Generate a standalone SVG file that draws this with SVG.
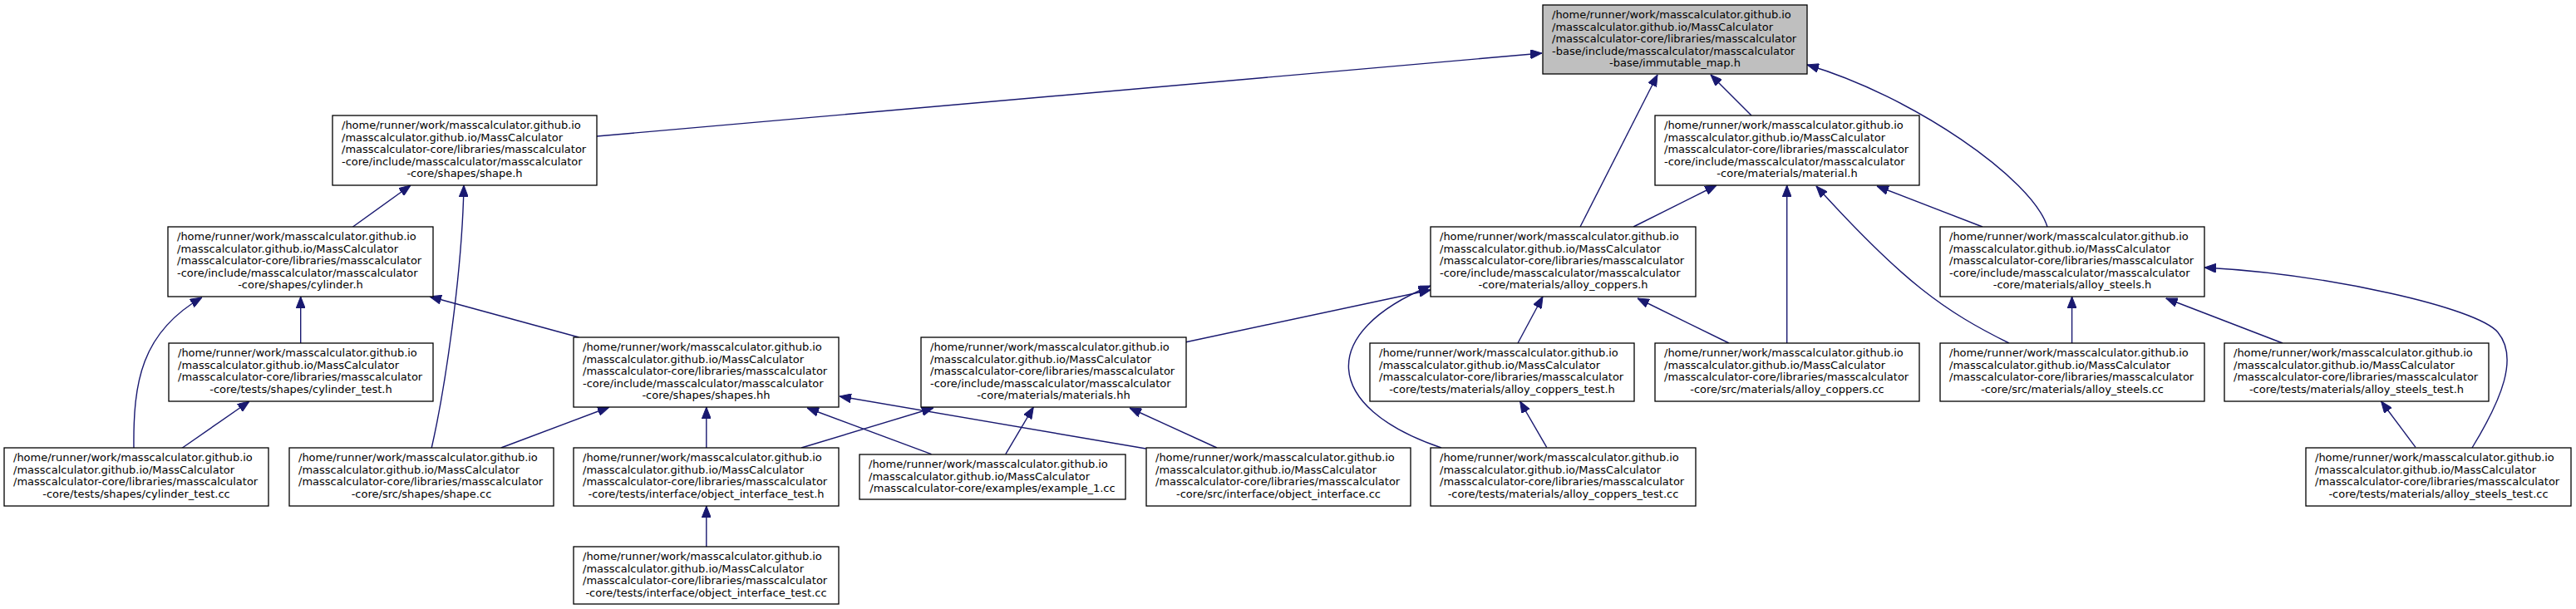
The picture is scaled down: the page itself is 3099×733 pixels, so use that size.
<svg xmlns="http://www.w3.org/2000/svg" width="3099" height="733" viewBox="0 0 3099 733">
<style>
rect.b{fill:#ffffff;stroke:#000000;stroke-width:1.3}
rect.g{fill:#bfbfbf;stroke:#000000;stroke-width:1.3}
text{font-family:"DejaVu Sans","Liberation Sans",sans-serif;font-size:13px;fill:#000000}
tspan.c{text-anchor:middle}
#edges path{fill:none;stroke:#191970;stroke-width:1.4;marker-end:url(#a)}
</style>
<defs>
<marker id="a" viewBox="0 0 14 11" refX="14" refY="5.5" markerWidth="14" markerHeight="11" orient="auto" markerUnits="userSpaceOnUse">
<path d="M0,0 L14,5.5 L0,11 Z" fill="#191970" stroke="#191970" stroke-width="1"/>
</marker>
</defs>
<rect width="3099" height="733" fill="#ffffff"/>
<g id="edges">
<path d="M718,164 L1855,64"/>
<path d="M1901,273 L1994,90"/>
<path d="M2107,139 L2058,90"/>
<path d="M2463,273 C2445,215 2300,115 2174,78"/>
<path d="M424.5,273 L494,223"/>
<path d="M519,540 C535,470 556,330 558,223"/>
<path d="M361.7,413 L361.7,357"/>
<path d="M161,540 C160,460 170,400 243,358"/>
<path d="M696.5,406 L517,357"/>
<path d="M602.7,539 L733,490"/>
<path d="M849.8,539 L849.8,490"/>
<path d="M1120.5,546.7 L971,491"/>
<path d="M1378.6,540 L1010,477"/>
<path d="M1426.7,411.7 L1721,349"/>
<path d="M1734,539 C1590,490 1585,400 1721,344"/>
<path d="M1826,413 L1856,357"/>
<path d="M2080,413 L1970,359"/>
<path d="M1965,273 L2065,223"/>
<path d="M2149.7,413 L2149.7,223"/>
<path d="M2417,413 C2340,375 2290,340 2185,224"/>
<path d="M2385,273 L2258,224"/>
<path d="M2492.6,413 L2492.6,357"/>
<path d="M2746,413 L2605.7,359"/>
<path d="M2974,539 C3010,480 3030,430 3005,400 C2980,370 2800,330 2652,322"/>
<path d="M2906,538.3 L2864.6,483"/>
<path d="M1860.7,538.3 L1828.6,483"/>
<path d="M218,540 L300,483"/>
<path d="M849.8,658 L849.8,609"/>
<path d="M1209.8,546.7 L1243.3,490"/>
<path d="M1464,539 L1359,491"/>
<path d="M964,539 L1122.8,491"/>
</g>
<g id="immutable_map">
<rect class="g" x="1856" y="6" width="318" height="83"/>
<text><tspan x="1867" y="22">/home/runner/work/masscalculator.github.io</tspan><tspan x="1867" y="36.5">/masscalculator.github.io/MassCalculator</tspan><tspan x="1867" y="51">/masscalculator-core/libraries/masscalculator</tspan><tspan x="1867" y="65.5">-base/include/masscalculator/masscalculator</tspan><tspan class="c" x="2015" y="80">-base/immutable_map.h</tspan></text>
</g>
<g id="shape_h">
<rect class="b" x="400" y="139" width="318" height="84"/>
<text><tspan x="411" y="155">/home/runner/work/masscalculator.github.io</tspan><tspan x="411" y="169.5">/masscalculator.github.io/MassCalculator</tspan><tspan x="411" y="184">/masscalculator-core/libraries/masscalculator</tspan><tspan x="411" y="198.5">-core/include/masscalculator/masscalculator</tspan><tspan class="c" x="559" y="213">-core/shapes/shape.h</tspan></text>
</g>
<g id="material_h">
<rect class="b" x="1991" y="139" width="318" height="84"/>
<text><tspan x="2002" y="155">/home/runner/work/masscalculator.github.io</tspan><tspan x="2002" y="169.5">/masscalculator.github.io/MassCalculator</tspan><tspan x="2002" y="184">/masscalculator-core/libraries/masscalculator</tspan><tspan x="2002" y="198.5">-core/include/masscalculator/masscalculator</tspan><tspan class="c" x="2150" y="213">-core/materials/material.h</tspan></text>
</g>
<g id="cylinder_h">
<rect class="b" x="202" y="273" width="319" height="84"/>
<text><tspan x="213" y="289">/home/runner/work/masscalculator.github.io</tspan><tspan x="213" y="303.5">/masscalculator.github.io/MassCalculator</tspan><tspan x="213" y="318">/masscalculator-core/libraries/masscalculator</tspan><tspan x="213" y="332.5">-core/include/masscalculator/masscalculator</tspan><tspan class="c" x="361.5" y="347">-core/shapes/cylinder.h</tspan></text>
</g>
<g id="alloy_coppers_h">
<rect class="b" x="1721" y="273" width="319" height="84"/>
<text><tspan x="1732" y="289">/home/runner/work/masscalculator.github.io</tspan><tspan x="1732" y="303.5">/masscalculator.github.io/MassCalculator</tspan><tspan x="1732" y="318">/masscalculator-core/libraries/masscalculator</tspan><tspan x="1732" y="332.5">-core/include/masscalculator/masscalculator</tspan><tspan class="c" x="1880.5" y="347">-core/materials/alloy_coppers.h</tspan></text>
</g>
<g id="alloy_steels_h">
<rect class="b" x="2334" y="273" width="318" height="84"/>
<text><tspan x="2345" y="289">/home/runner/work/masscalculator.github.io</tspan><tspan x="2345" y="303.5">/masscalculator.github.io/MassCalculator</tspan><tspan x="2345" y="318">/masscalculator-core/libraries/masscalculator</tspan><tspan x="2345" y="332.5">-core/include/masscalculator/masscalculator</tspan><tspan class="c" x="2493" y="347">-core/materials/alloy_steels.h</tspan></text>
</g>
<g id="shapes_hh">
<rect class="b" x="690" y="406" width="319" height="84"/>
<text><tspan x="701" y="422">/home/runner/work/masscalculator.github.io</tspan><tspan x="701" y="436.5">/masscalculator.github.io/MassCalculator</tspan><tspan x="701" y="451">/masscalculator-core/libraries/masscalculator</tspan><tspan x="701" y="465.5">-core/include/masscalculator/masscalculator</tspan><tspan class="c" x="849.5" y="480">-core/shapes/shapes.hh</tspan></text>
</g>
<g id="materials_hh">
<rect class="b" x="1108" y="406" width="319" height="84"/>
<text><tspan x="1119" y="422">/home/runner/work/masscalculator.github.io</tspan><tspan x="1119" y="436.5">/masscalculator.github.io/MassCalculator</tspan><tspan x="1119" y="451">/masscalculator-core/libraries/masscalculator</tspan><tspan x="1119" y="465.5">-core/include/masscalculator/masscalculator</tspan><tspan class="c" x="1267.5" y="480">-core/materials/materials.hh</tspan></text>
</g>
<g id="cylinder_test_h">
<rect class="b" x="203" y="413" width="318" height="70"/>
<text><tspan x="214" y="429">/home/runner/work/masscalculator.github.io</tspan><tspan x="214" y="443.5">/masscalculator.github.io/MassCalculator</tspan><tspan x="214" y="458">/masscalculator-core/libraries/masscalculator</tspan><tspan class="c" x="362" y="472.5">-core/tests/shapes/cylinder_test.h</tspan></text>
</g>
<g id="alloy_coppers_test_h">
<rect class="b" x="1648" y="413" width="318" height="70"/>
<text><tspan x="1659" y="429">/home/runner/work/masscalculator.github.io</tspan><tspan x="1659" y="443.5">/masscalculator.github.io/MassCalculator</tspan><tspan x="1659" y="458">/masscalculator-core/libraries/masscalculator</tspan><tspan class="c" x="1807" y="472.5">-core/tests/materials/alloy_coppers_test.h</tspan></text>
</g>
<g id="alloy_coppers_cc">
<rect class="b" x="1991" y="413" width="318" height="70"/>
<text><tspan x="2002" y="429">/home/runner/work/masscalculator.github.io</tspan><tspan x="2002" y="443.5">/masscalculator.github.io/MassCalculator</tspan><tspan x="2002" y="458">/masscalculator-core/libraries/masscalculator</tspan><tspan class="c" x="2150" y="472.5">-core/src/materials/alloy_coppers.cc</tspan></text>
</g>
<g id="alloy_steels_cc">
<rect class="b" x="2334" y="413" width="318" height="70"/>
<text><tspan x="2345" y="429">/home/runner/work/masscalculator.github.io</tspan><tspan x="2345" y="443.5">/masscalculator.github.io/MassCalculator</tspan><tspan x="2345" y="458">/masscalculator-core/libraries/masscalculator</tspan><tspan class="c" x="2493" y="472.5">-core/src/materials/alloy_steels.cc</tspan></text>
</g>
<g id="alloy_steels_test_h">
<rect class="b" x="2676" y="413" width="318" height="70"/>
<text><tspan x="2687" y="429">/home/runner/work/masscalculator.github.io</tspan><tspan x="2687" y="443.5">/masscalculator.github.io/MassCalculator</tspan><tspan x="2687" y="458">/masscalculator-core/libraries/masscalculator</tspan><tspan class="c" x="2835" y="472.5">-core/tests/materials/alloy_steels_test.h</tspan></text>
</g>
<g id="cylinder_test_cc">
<rect class="b" x="5" y="539" width="318" height="70"/>
<text><tspan x="16" y="555">/home/runner/work/masscalculator.github.io</tspan><tspan x="16" y="569.5">/masscalculator.github.io/MassCalculator</tspan><tspan x="16" y="584">/masscalculator-core/libraries/masscalculator</tspan><tspan class="c" x="164" y="598.5">-core/tests/shapes/cylinder_test.cc</tspan></text>
</g>
<g id="shape_cc">
<rect class="b" x="348" y="539" width="318" height="70"/>
<text><tspan x="359" y="555">/home/runner/work/masscalculator.github.io</tspan><tspan x="359" y="569.5">/masscalculator.github.io/MassCalculator</tspan><tspan x="359" y="584">/masscalculator-core/libraries/masscalculator</tspan><tspan class="c" x="507" y="598.5">-core/src/shapes/shape.cc</tspan></text>
</g>
<g id="object_interface_test_h">
<rect class="b" x="690" y="539" width="319" height="70"/>
<text><tspan x="701" y="555">/home/runner/work/masscalculator.github.io</tspan><tspan x="701" y="569.5">/masscalculator.github.io/MassCalculator</tspan><tspan x="701" y="584">/masscalculator-core/libraries/masscalculator</tspan><tspan class="c" x="849.5" y="598.5">-core/tests/interface/object_interface_test.h</tspan></text>
</g>
<g id="example_1_cc">
<rect class="b" x="1034" y="547" width="320" height="54"/>
<text><tspan x="1045" y="563">/home/runner/work/masscalculator.github.io</tspan><tspan x="1045" y="577.5">/masscalculator.github.io/MassCalculator</tspan><tspan class="c" x="1194" y="592">/masscalculator-core/examples/example_1.cc</tspan></text>
</g>
<g id="object_interface_cc">
<rect class="b" x="1379" y="539" width="318" height="70"/>
<text><tspan x="1390" y="555">/home/runner/work/masscalculator.github.io</tspan><tspan x="1390" y="569.5">/masscalculator.github.io/MassCalculator</tspan><tspan x="1390" y="584">/masscalculator-core/libraries/masscalculator</tspan><tspan class="c" x="1538" y="598.5">-core/src/interface/object_interface.cc</tspan></text>
</g>
<g id="alloy_coppers_test_cc">
<rect class="b" x="1721" y="539" width="319" height="70"/>
<text><tspan x="1732" y="555">/home/runner/work/masscalculator.github.io</tspan><tspan x="1732" y="569.5">/masscalculator.github.io/MassCalculator</tspan><tspan x="1732" y="584">/masscalculator-core/libraries/masscalculator</tspan><tspan class="c" x="1880.5" y="598.5">-core/tests/materials/alloy_coppers_test.cc</tspan></text>
</g>
<g id="alloy_steels_test_cc">
<rect class="b" x="2774" y="539" width="319" height="70"/>
<text><tspan x="2785" y="555">/home/runner/work/masscalculator.github.io</tspan><tspan x="2785" y="569.5">/masscalculator.github.io/MassCalculator</tspan><tspan x="2785" y="584">/masscalculator-core/libraries/masscalculator</tspan><tspan class="c" x="2933.5" y="598.5">-core/tests/materials/alloy_steels_test.cc</tspan></text>
</g>
<g id="object_interface_test_cc">
<rect class="b" x="690" y="658" width="319" height="69"/>
<text><tspan x="701" y="674">/home/runner/work/masscalculator.github.io</tspan><tspan x="701" y="688.5">/masscalculator.github.io/MassCalculator</tspan><tspan x="701" y="703">/masscalculator-core/libraries/masscalculator</tspan><tspan class="c" x="849.5" y="717.5">-core/tests/interface/object_interface_test.cc</tspan></text>
</g>
</svg>
